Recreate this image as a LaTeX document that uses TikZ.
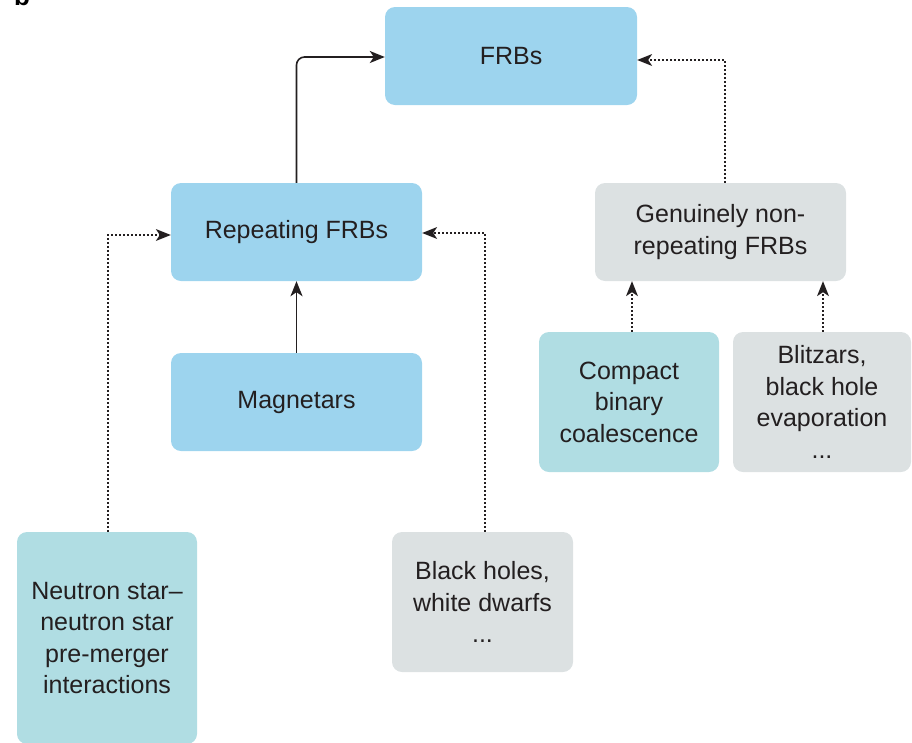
\documentclass[tikz,border=0pt]{standalone}
\usepackage{fontspec}
\setmainfont{Liberation Sans}
\usetikzlibrary{arrows.meta}
\definecolor{frbblue}{RGB}{157,212,238}
\definecolor{frbteal}{RGB}{176,221,227}
\definecolor{frbgrey}{RGB}{220,225,226}
\definecolor{txt}{RGB}{35,31,32}
\tikzset{
  box/.style={rounded corners=10pt, inner sep=0pt, align=center, text=txt,
    font=\fontsize{25}{31.5}\selectfont},
  bluebox/.style={box, fill=frbblue},
  tealbox/.style={box, fill=frbteal},
  greybox/.style={box, fill=frbgrey},
  solidarrow/.style={line width=1.6pt, draw=txt, rounded corners=8pt,
    -{Stealth[length=15pt,width=12pt,inset=4pt]}},
  dotarrow/.style={line width=1.4pt, draw=txt, dash pattern=on 1.4pt off 2.6pt,
    -{Stealth[length=15pt,width=12pt,inset=4pt,line width=0pt]}}
}
\begin{document}
\begin{tikzpicture}[x=1pt,y=-1pt]
\useasboundingbox (0,0) rectangle (912,742);
\node[font=\fontsize{26}{26}\selectfont\bfseries, anchor=base] (lbl) at (22,5) {b};
\node[bluebox, minimum width=252pt, minimum height=98pt] (frb) at (511,56) {FRBs};
\node[bluebox, minimum width=251pt, minimum height=98pt] (rep) at (296.5,232) {Repeating FRBs};
\node[bluebox, minimum width=251pt, minimum height=98pt] (mag) at (296.5,402) {Magnetars};
\node[greybox, minimum width=251pt, minimum height=98pt] (gen) at (720.5,232) {Genuinely non-\\repeating FRBs};
\node[tealbox, minimum width=180pt, minimum height=140pt] (cbc) at (629,402) {Compact\\binary\\coalescence};
\node[greybox, minimum width=178pt, minimum height=140pt] (bli) at (822,402) {Blitzars,\\black hole\\evaporation\\...};
\node[tealbox, minimum width=180pt, minimum height=212pt] (nsns) at (107,638) {Neutron star--\\neutron star\\pre-merger\\interactions};
\node[greybox, minimum width=181pt, minimum height=140pt] (bh) at (482.5,602) {Black holes,\\white dwarfs\\...};
% connectors
\draw[solidarrow] (rep.north) |- (frb.west |- 0,57);
\draw[solidarrow] (mag.north) -- (rep.south);
\draw[dotarrow] (nsns.north -| 108,0) |- (rep.west |- 0,235);
\draw[dotarrow] (bh.north -| 485,0) |- (rep.east |- 0,233);
\draw[dotarrow] (gen.north -| 725,0) |- (frb.east |- 0,60);
\draw[dotarrow] (cbc.north -| 632,0) -- (gen.south -| 632,0);
\draw[dotarrow] (bli.north -| 823,0) -- (gen.south -| 823,0);
\end{tikzpicture}
\end{document}
